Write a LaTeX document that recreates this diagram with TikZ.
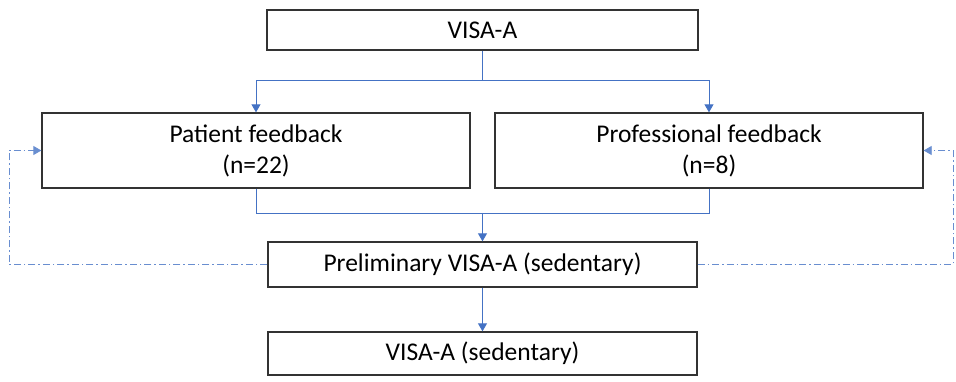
\documentclass[tikz,border=0pt]{standalone}
\usepackage{fontspec}
\setmainfont{Carlito}
\usetikzlibrary{arrows.meta,positioning}
\definecolor{flowblue}{HTML}{4472C4}
\definecolor{boxgray}{HTML}{333333}

\begin{document}
\begin{tikzpicture}[x=1pt,y=-1pt,
    box/.style={draw=boxgray,line width=1.3pt,inner sep=0pt,align=center,
        font=\fontsize{25.5}{31}\selectfont},
    flow/.style={draw=flowblue,line width=0.9pt},
    tip/.style={-{Triangle[width=9pt,length=8pt]}},
    fbline/.style={draw=flowblue!80,line width=0.8pt,
        dash pattern=on 7pt off 3pt on 1.5pt off 3pt}]

\useasboundingbox (0,0) rectangle (956,382);

% Boxes
\node[box,minimum width=431pt,minimum height=40pt] (visa) at (482.5,30) {VISA-A};
\node[box,minimum width=428pt,minimum height=75pt] (patient) at (256,150.5) {Patient feedback\\(n=22)};
\node[box,minimum width=428pt,minimum height=75pt] (pro) at (709,150.5) {Professional feedback\\(n=8)};
\node[box,minimum width=429pt,minimum height=45pt] (prelim) at (482.5,264.5) {Preliminary VISA-A (sedentary)};
\node[box,minimum width=429pt,minimum height=43pt] (final) at (482.5,353.5) {VISA-A (sedentary)};

% Split
\coordinate (split) at (482.5,80);
\draw[flow] (visa.south) -- (split);
\draw[flow,tip] (split) -| (patient.north);
\draw[flow,tip] (split) -| (pro.north);

% Merge
\coordinate (merge) at (482.5,213);
\draw[flow] (patient.south) |- (merge);
\draw[flow] (pro.south) |- (merge);
\draw[flow,tip] (merge) -- (prelim.north);
\draw[flow,tip] (prelim.south) -- (final.north);

% Feedback loops
\coordinate (lback) at (9,264.5);
\coordinate (rback) at (953,264.5);
\draw[fbline,tip] (prelim.west) -- (lback) |- (patient.west);
\draw[fbline,tip] (prelim.east) -- (rback) |- (pro.east);

\end{tikzpicture}
\end{document}
